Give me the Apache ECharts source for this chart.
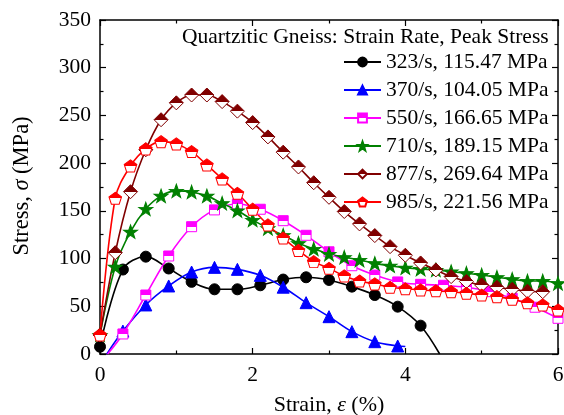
<!DOCTYPE html>
<html>
<head>
<meta charset="utf-8">
<script src="https://cdn.jsdelivr.net/npm/echarts@6/dist/echarts.min.js"></script>
<style>
html,body{margin:0;padding:0;background:#fff;}
#c{width:564px;height:415px;}
</style>
</head>
<body>
<div id="c"></div>
<script>
// ---------- data ----------
const seriesNames = ['323/s, 115.47 MPa','370/s, 104.05 MPa','550/s, 166.65 MPa','710/s, 189.15 MPa','877/s, 269.64 MPa','985/s, 221.56 MPa'];
const legendTitle = 'Quartzitic Gneiss: Strain Rate, Peak Stress';

const blackStrain = [0, 0.3, 0.6, 0.9, 1.2, 1.5, 1.8, 2.1, 2.4, 2.7, 3.0, 3.3, 3.6, 3.9, 4.2, 4.45];
const blackStress = [7.6, 88.5, 102, 89.6, 75.6, 67.8, 67.8, 72, 78, 80.4, 77.6, 70.6, 61.8, 49.6, 29.7, 0];

const blueStrain = [0.09, 0.3, 0.6, 0.9, 1.2, 1.5, 1.8, 2.1, 2.4, 2.7, 3.0, 3.3, 3.6, 3.9, 4.0];
const blueStress = [0, 24, 51.4, 71.3, 85.9, 90.8, 88.7, 82.4, 70, 53.8, 39.1, 23.4, 12.9, 8.4, 7.8];

const magentaStrain = [0.1, 0.3, 0.6, 0.9, 1.2, 1.5, 1.8, 2.1, 2.4, 2.7, 3.0, 3.3, 3.6, 3.9, 4.2, 4.5, 4.8, 5.1, 5.4, 5.7, 6.0];
const magentaStress = [0, 21, 61.8, 102.7, 133.4, 151, 157.2, 151.7, 139.7, 124.4, 107.1, 92.5, 82.7, 75.5, 73, 72, 69.9, 65.3, 58.4, 49, 37.4];

const greenStrain = [0, 0.2, 0.4, 0.6, 0.8, 1.0, 1.2, 1.4, 1.6, 1.8, 2.0, 2.2, 2.4, 2.6, 2.8, 3.0, 3.2, 3.4, 3.6, 3.8, 4.0, 4.2, 4.4, 4.6, 4.8, 5.0, 5.2, 5.4, 5.6, 5.8, 6.0];
const greenStress = [20, 91.5, 128.2, 152, 165.7, 170.9, 169.8, 165.7, 158, 150.3, 140.5, 131.7, 124.5, 116.1, 110.1, 104.8, 101.4, 98.5, 95.0, 92.5, 90.4, 89.0, 88.1, 86.3, 84.6, 82.8, 80.4, 78.3, 76.5, 76.5, 74.1];

const darkRedStrain = [0, 0.2, 0.4, 0.6, 0.8, 1.0, 1.2, 1.4, 1.6, 1.8, 2.0, 2.2, 2.4, 2.6, 2.8, 3.0, 3.2, 3.4, 3.6, 3.8, 4.0, 4.2, 4.4, 4.6, 4.8, 5.0, 5.2, 5.4, 5.6, 5.8];
const darkRedStress = [20, 106.2, 170.1, 214, 245.5, 263.2, 271.4, 271.4, 264.5, 254.5, 242.5, 227.5, 211.5, 196, 179.5, 164.2, 149.3, 136.3, 124.1, 112.5, 103.5, 95.4, 88.1, 81.1, 76, 72.3, 69.9, 67.8, 65.8, 65.3];

const redStrain = [0, 0.2, 0.4, 0.6, 0.8, 1.0, 1.2, 1.4, 1.6, 1.8, 2.0, 2.2, 2.4, 2.6, 2.8, 3.0, 3.2, 3.4, 3.6, 3.8, 4.0, 4.2, 4.4, 4.6, 4.8, 5.0, 5.2, 5.4, 5.6, 5.8, 6.0];
const redStress = [20, 163.2, 197.1, 214.9, 222.5, 220.1, 212.1, 198.1, 183.4, 168.4, 151.7, 135.2, 121.5, 108.5, 96.8, 89.8, 81.8, 76.5, 73.4, 69.9, 68.3, 67.1, 66.2, 65.3, 63.6, 61.8, 60.1, 57.4, 53.6, 51.4, 46.1];

const xTicks = [0, 2, 4, 6];
const yTicks = [0, 50, 100, 150, 200, 250, 300, 350];

// ---------- styling ----------
const FONT = "'Liberation Serif', 'Times New Roman', serif";
const FS = 21.5;
const STAR = 'path://M100 0 L123.5 67.6 L195.1 69.1 L138 112.4 L158.8 180.9 L100 140 L41.2 180.9 L62 112.4 L4.9 69.1 L76.5 67.6 Z';
const PENT = 'path://M100 0 L195.1 69.1 L158.8 180.9 L41.2 180.9 L4.9 69.1 Z';

function halfFill(c) {
  return {type: 'linear', x: 0, y: 0, x2: 0, y2: 1, global: false,
    colorStops: [{offset: 0, color: c}, {offset: 0.5, color: c}, {offset: 0.5, color: '#ffffff'}, {offset: 1, color: '#ffffff'}]};
}

function makeSeries(name, xs, ys, color, symbol, size, fill, noMark) {
  const data = xs.map((x, i) => {
    const d = {value: [x, ys[i]]};
    if (noMark.indexOf(i) >= 0) d.symbol = 'none';
    return d;
  });
  return {
    type: 'line', name: name, data: data,
    smooth: 0.35, symbol: symbol, symbolSize: size, showAllSymbol: true,
    lineStyle: {color: color, width: 1.6},
    itemStyle: {color: fill, borderColor: color, borderWidth: 1},
    emphasis: {disabled: true},
    clip: true, animation: false
  };
}

const series = [
  makeSeries(seriesNames[0], blackStrain, blackStress, '#000000', 'circle', 11, '#000000', [blackStrain.length - 1]),
  makeSeries(seriesNames[1], blueStrain, blueStress, '#0000ff', 'triangle', 12, '#0000ff', [0, blueStrain.length - 1]),
  makeSeries(seriesNames[2], magentaStrain, magentaStress, '#ff00ff', 'rect', 10, halfFill('#ff00ff'), [0]),
  makeSeries(seriesNames[3], greenStrain, greenStress, '#008000', STAR, [14, 13.3], '#008000', []),
  makeSeries(seriesNames[4], darkRedStrain, darkRedStress, '#800000', 'diamond', [14, 14], halfFill('#800000'), []),
  makeSeries(seriesNames[5], redStrain, redStress, '#ff0000', PENT, [12.6, 12], halfFill('#ff0000'), [])
];

const axisCommon = {
  axisLine: {show: true, onZero: false, lineStyle: {color: '#000', width: 1.5}},
  axisTick: {show: true, inside: true, length: 6, lineStyle: {color: '#000', width: 1.2}},
  minorTick: {show: true, splitNumber: 2, length: 3.5, lineStyle: {color: '#000', width: 1.2}},
  splitLine: {show: false}
};

const labelStyle = {color: '#000', fontSize: FS, fontFamily: FONT};

const option = {
  animation: false,
  backgroundColor: '#fff',
  grid: {left: 100, right: 6, top: 20, bottom: 61, containLabel: false, outerBoundsMode: 'none'},
  title: {
    text: legendTitle, left: 182, top: 26, padding: 0,
    textStyle: {color: '#000', fontSize: FS, fontWeight: 'normal', fontFamily: FONT}
  },
  legend: {
    orient: 'vertical', left: 343, top: 51, padding: 0,
    itemWidth: 37, itemHeight: 11, itemGap: 6,
    data: seriesNames,
    textStyle: {color: '#000', fontSize: FS, fontFamily: FONT, lineHeight: 21},
    selectedMode: false
  },
  xAxis: [
    Object.assign({}, axisCommon, {
      type: 'value', min: xTicks[0], max: xTicks[xTicks.length - 1], interval: 2, position: 'bottom',
      axisLabel: Object.assign({margin: 10}, labelStyle),
      name: '{n|Strain, }{i|ε}{n| (%)}', nameLocation: 'middle', nameGap: 40,
      nameTextStyle: {rich: {
        n: {fontSize: 22, fontFamily: FONT, color: '#000'},
        i: {fontSize: 22, fontFamily: FONT, fontStyle: 'italic', color: '#000'}
      }}
    }),
    Object.assign({}, axisCommon, {
      type: 'value', min: xTicks[0], max: xTicks[xTicks.length - 1], interval: 2, position: 'top',
      axisLabel: {show: false}
    })
  ],
  yAxis: [
    Object.assign({}, axisCommon, {
      type: 'value', min: yTicks[0], max: yTicks[yTicks.length - 1], interval: 50, position: 'left',
      axisLabel: Object.assign({margin: 9}, labelStyle)
    }),
    Object.assign({}, axisCommon, {
      type: 'value', min: yTicks[0], max: yTicks[yTicks.length - 1], interval: 50, position: 'right',
      axisLabel: {show: false}
    })
  ],
  graphic: [{
    type: 'text', x: 22, y: 186, rotation: Math.PI / 2,
    style: {
      text: '{n|Stress, }{i|σ}{n| (MPa)}',
      align: 'center', verticalAlign: 'middle',
      rich: {
        n: {fontSize: 22.5, fontFamily: FONT, fill: '#000'},
        i: {fontSize: 22.5, fontFamily: FONT, fontStyle: 'italic', fill: '#000'}
      }
    }
  }],
  series: series
};

const chart = echarts.init(document.getElementById('c'), null, {renderer: 'canvas'});
chart.setOption(option);
</script>
</body>
</html>
